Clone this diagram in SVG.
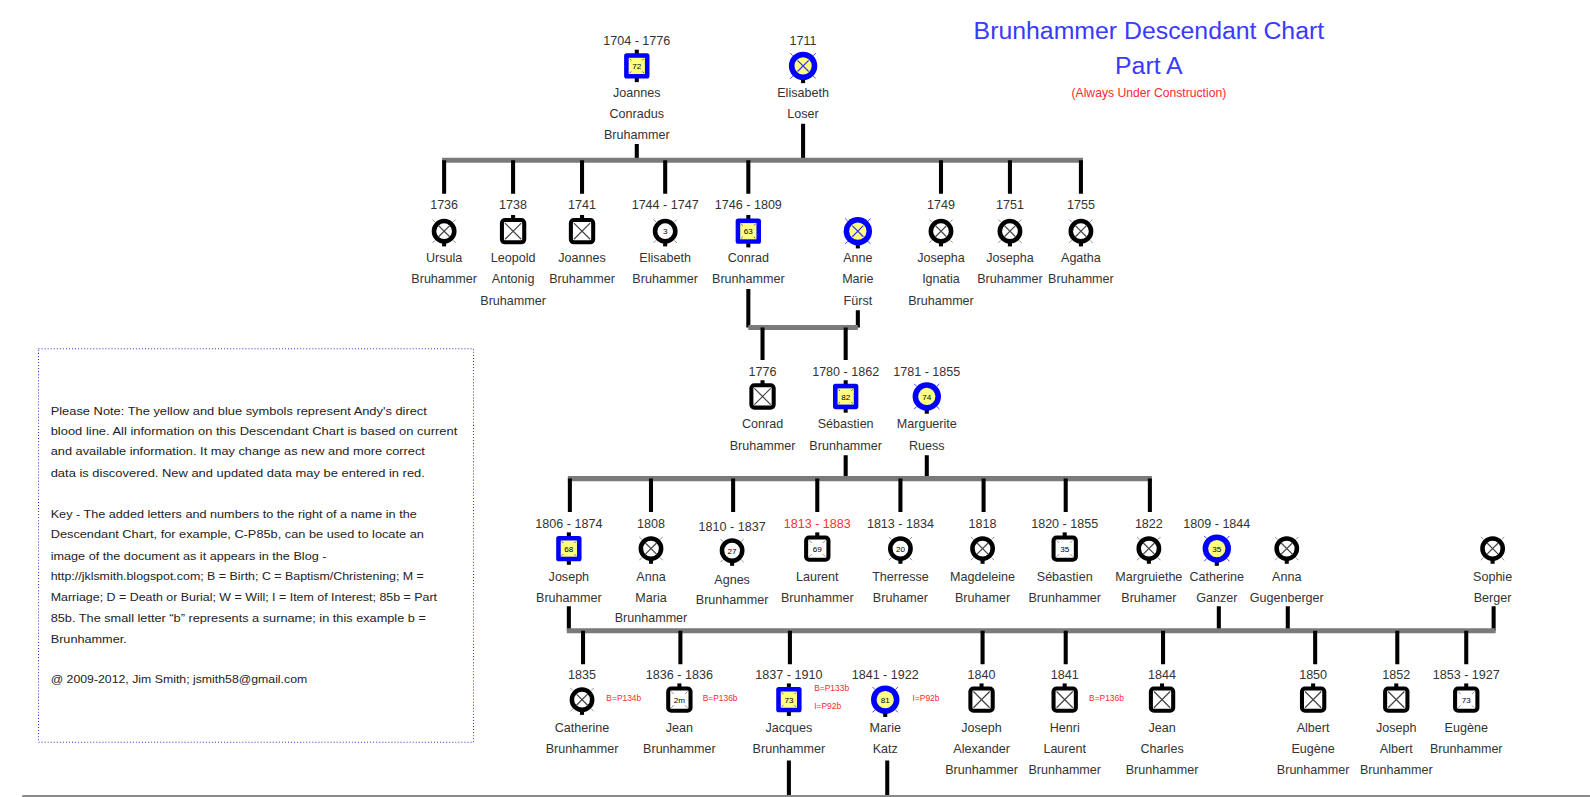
<svg xmlns="http://www.w3.org/2000/svg" width="1590" height="797" viewBox="0 0 1590 797">
<style>
text{font-family:"Liberation Sans",Arial,sans-serif}
.t{font-size:12.4px;fill:#333;text-anchor:middle}
.d{font-size:12.4px;fill:#333;text-anchor:middle}
.dr{font-size:12.4px;fill:#ff3030;text-anchor:middle}
.r{font-size:8.3px;fill:#ff2a2a;text-anchor:start}
.n{font-size:8px;fill:#000;text-anchor:middle}
.note{font-size:11.4px;fill:#222}
.v{stroke:#000;stroke-width:4;fill:none}
.h{stroke:#7a7a7a;stroke-width:5;fill:none}
.x{stroke:#444;stroke-width:1.2;fill:none}
.tk{stroke:#777;stroke-width:0.8;fill:none}
</style>
<defs>
<g id="sqX">
<rect x="-2" y="-16" width="4" height="5" fill="#000"/>
<rect x="-11" y="-11" width="22" height="22" rx="3" fill="#fff" stroke="#000" stroke-width="4"/>
<path class="x" d="M-8,-8 L8,8 M-8,8 L8,-8"/>
</g>
<g id="sqN">
<rect x="-2" y="-16" width="4" height="5" fill="#000"/>
<rect x="-11" y="-11" width="22" height="22" rx="3" fill="#fff" stroke="#000" stroke-width="4"/>
<path class="tk" d="M-8,-8 l2.5,2.5 M8,-8 l-2.5,2.5 M-8,8 l2.5,-2.5 M8,8 l-2.5,-2.5"/>
</g>
<g id="ciX">
<rect x="-2" y="10" width="4" height="5" fill="#000"/>
<path class="tk" d="M-9,-9 l-2.5,-2.5 M9,-9 l2.5,-2.5 M-9,9 l-2.5,2.5 M9,9 l2.5,2.5"/>
<circle r="10" fill="#fff" stroke="#000" stroke-width="4.5"/>
<path class="x" d="M-5.5,-5.5 L5.5,5.5 M-5.5,5.5 L5.5,-5.5"/>
</g>
<g id="ciN">
<rect x="-2" y="10" width="4" height="5" fill="#000"/>
<path class="tk" d="M-9,-9 l-2.5,-2.5 M9,-9 l2.5,-2.5 M-9,9 l-2.5,2.5 M9,9 l2.5,2.5"/>
<circle r="10" fill="#fff" stroke="#000" stroke-width="4.5"/>
</g>
<g id="sqB">
<rect x="-2" y="-16" width="4" height="5" fill="#000"/>
<rect x="-2" y="11" width="4" height="5" fill="#000"/>
<rect x="-12.5" y="-12.5" width="25" height="25" rx="2.5" fill="#0000ff"/>
<rect x="-8" y="-8" width="16" height="16" fill="#ffff80"/>
<path d="M-7,-7 l1.5,1.5 M7,-7 l-1.5,1.5 M-7,7 l1.5,-1.5 M7,7 l-1.5,-1.5" stroke="#3030ff" stroke-width="0.9"/>
</g>
<g id="ciB">
<rect x="-2" y="12" width="4" height="5" fill="#000"/>
<path d="M-10,-10 l-2.5,-2.5 M10,-10 l2.5,-2.5 M-10,10 l-2.5,2.5 M10,10 l2.5,2.5" stroke="#3030ff" stroke-width="0.9"/>
<circle r="14" fill="#0000ff"/>
<circle r="8.5" fill="#ffff80"/>
</g>
<g id="ciBX">
<use href="#ciB"/>
<path d="M-5.5,-5.5 L5.5,5.5 M-5.5,5.5 L5.5,-5.5" stroke="#3030ff" stroke-width="1.2"/>
</g>
</defs>
<rect width="1590" height="797" fill="#fff"/>
<g transform="scale(1.014)">

<g id="title">
<text x="1133" y="38" style="font-size:24.5px;fill:#3a3aff;text-anchor:middle">Brunhammer Descendant Chart</text>
<text x="1133" y="73" style="font-size:24.5px;fill:#3a3aff;text-anchor:middle">Part A</text>
<text x="1133" y="96" style="font-size:12px;fill:#ff2a2a;text-anchor:middle">(Always Under Construction)</text>
</g>

<g id="note">
<rect x="38" y="344" width="429" height="388" fill="none" stroke="#3333cc" stroke-width="1" stroke-dasharray="1,2"/>
<text class="note" x="50" y="409" textLength="371" lengthAdjust="spacingAndGlyphs">Please Note:  The yellow and blue symbols represent Andy's direct</text>
<text class="note" x="50" y="429" textLength="401" lengthAdjust="spacingAndGlyphs">blood line.  All information on this Descendant Chart is based on current</text>
<text class="note" x="50" y="449" textLength="369" lengthAdjust="spacingAndGlyphs">and available information.  It may change as new and more correct</text>
<text class="note" x="50" y="470" textLength="369" lengthAdjust="spacingAndGlyphs">data is discovered.  New and updated data may be entered in red.</text>
<text class="note" x="50" y="511" textLength="361" lengthAdjust="spacingAndGlyphs">Key - The added letters and numbers to the right of a name in the</text>
<text class="note" x="50" y="531" textLength="368" lengthAdjust="spacingAndGlyphs">Descendant Chart, for example, C-P85b, can be used to locate an</text>
<text class="note" x="50" y="552" textLength="272" lengthAdjust="spacingAndGlyphs">image of the document as it appears in the Blog -</text>
<text class="note" x="50" y="572" textLength="368" lengthAdjust="spacingAndGlyphs">http://jklsmith.blogspot.com; B = Birth; C = Baptism/Christening; M =</text>
<text class="note" x="50" y="593" textLength="381" lengthAdjust="spacingAndGlyphs">Marriage; D = Death or Burial; W = Will; I = Item of Interest; 85b = Part</text>
<text class="note" x="50" y="613" textLength="370" lengthAdjust="spacingAndGlyphs">85b.  The small letter “b” represents a surname; in this example b =</text>
<text class="note" x="50" y="634" textLength="75" lengthAdjust="spacingAndGlyphs">Brunhammer.</text>
<text class="note" x="50" y="674" textLength="253" lengthAdjust="spacingAndGlyphs">@ 2009-2012, Jim Smith; jsmith58@gmail.com</text>
</g>

<g id="connectors">
<path class="v" d="M628,142 V158 M792,122 V158"/>
<path class="h" d="M436,158 H1068"/>
<path class="v" d="M438,158 V191 M506,158 V191 M574,158 V191 M656,158 V191 M738,158 V191 M928,158 V191 M996,158 V191 M1066,158 V191"/>
<path class="v" d="M738,285 V323 M846,306 V323"/>
<path class="h" d="M738,323 H846"/>
<path class="v" d="M752,323 V355 M834,323 V355"/>
<path class="v" d="M834,449 V472 M914,449 V472"/>
<path class="h" d="M560,472 H1136"/>
<path class="v" d="M562,472 V505 M642,472 V505 M723,472 V505 M806,472 V505 M888,472 V505 M970,472 V505 M1051,472 V505 M1134,472 V505"/>
<path class="v" d="M561,598 V622 M1202,598 V622 M1270,598 V622 M1473,598 V622"/>
<path class="h" d="M559,622 H1475"/>
<path class="v" d="M575,622 V655 M671,622 V655 M779,622 V655 M969,622 V655 M1051,622 V655 M1147,622 V655 M1297,622 V655 M1378,622 V655 M1446,622 V655"/>
<path class="v" d="M778,750 V785 M875,750 V785"/>
<path d="M22,785 H1568" stroke="#8a8a8a" stroke-width="2"/>
</g>

<g id="p_joannes_conradus">
<text class="d" x="628" y="44.5">1704 - 1776</text>
<use href="#sqB" x="628" y="65"/><text class="n" x="628" y="68">72</text>
<text class="t" x="628" y="95.5">Joannes</text><text class="t" x="628" y="116.5">Conradus</text><text class="t" x="628" y="137.5">Bruhammer</text>
</g>
<g id="p_elisabeth_loser">
<text class="d" x="792" y="44.5">1711</text>
<use href="#ciBX" x="792" y="65"/>
<text class="t" x="792" y="95.5">Elisabeth</text><text class="t" x="792" y="116.5">Loser</text>
</g>

<g id="p_ursula">
<text class="d" x="438" y="206.5">1736</text><use href="#ciX" x="438" y="228"/>
<text class="t" x="438" y="258.5">Ursula</text><text class="t" x="438" y="279.5">Bruhammer</text>
</g>
<g id="p_leopold">
<text class="d" x="506" y="206.5">1738</text><use href="#sqX" x="506" y="228"/>
<text class="t" x="506" y="258.5">Leopold</text><text class="t" x="506" y="279.5">Antonig</text><text class="t" x="506" y="300.5">Bruhammer</text>
</g>
<g id="p_joannes">
<text class="d" x="574" y="206.5">1741</text><use href="#sqX" x="574" y="228"/>
<text class="t" x="574" y="258.5">Joannes</text><text class="t" x="574" y="279.5">Bruhammer</text>
</g>
<g id="p_elisabeth">
<text class="d" x="656" y="206.5">1744 - 1747</text><use href="#ciN" x="656" y="228"/><text class="n" x="656" y="231">3</text>
<text class="t" x="656" y="258.5">Elisabeth</text><text class="t" x="656" y="279.5">Bruhammer</text>
</g>
<g id="p_conrad">
<text class="d" x="738" y="206.5">1746 - 1809</text><use href="#sqB" x="738" y="228"/><text class="n" x="738" y="231">63</text>
<text class="t" x="738" y="258.5">Conrad</text><text class="t" x="738" y="279.5">Brunhammer</text>
</g>
<g id="p_anne_marie">
<use href="#ciBX" x="846" y="228"/>
<text class="t" x="846" y="258.5">Anne</text><text class="t" x="846" y="279.5">Marie</text><text class="t" x="846" y="300.5">Fürst</text>
</g>
<g id="p_josepha_ignatia">
<text class="d" x="928" y="206.5">1749</text><use href="#ciX" x="928" y="228"/>
<text class="t" x="928" y="258.5">Josepha</text><text class="t" x="928" y="279.5">Ignatia</text><text class="t" x="928" y="300.5">Bruhammer</text>
</g>
<g id="p_josepha">
<text class="d" x="996" y="206.5">1751</text><use href="#ciX" x="996" y="228"/>
<text class="t" x="996" y="258.5">Josepha</text><text class="t" x="996" y="279.5">Bruhammer</text>
</g>
<g id="p_agatha">
<text class="d" x="1066" y="206.5">1755</text><use href="#ciX" x="1066" y="228"/>
<text class="t" x="1066" y="258.5">Agatha</text><text class="t" x="1066" y="279.5">Bruhammer</text>
</g>

<g id="p_conrad_1776">
<text class="d" x="752" y="370.5">1776</text><use href="#sqX" x="752" y="391"/>
<text class="t" x="752" y="422.5">Conrad</text><text class="t" x="752" y="443.5">Bruhammer</text>
</g>
<g id="p_sebastien">
<text class="d" x="834" y="370.5">1780 - 1862</text><use href="#sqB" x="834" y="391"/><text class="n" x="834" y="394">82</text>
<text class="t" x="834" y="422.5">Sébastien</text><text class="t" x="834" y="443.5">Brunhammer</text>
</g>
<g id="p_marguerite">
<text class="d" x="914" y="370.5">1781 - 1855</text><use href="#ciB" x="914" y="391"/><text class="n" x="914" y="394">74</text>
<text class="t" x="914" y="422.5">Marguerite</text><text class="t" x="914" y="443.5">Ruess</text>
</g>

<g id="p_joseph">
<text class="d" x="561" y="520.5">1806 - 1874</text><use href="#sqB" x="561" y="541"/><text class="n" x="561" y="544">68</text>
<text class="t" x="561" y="572.5">Joseph</text><text class="t" x="561" y="593.5">Bruhammer</text>
</g>
<g id="p_anna_maria">
<text class="d" x="642" y="520.5">1808</text><use href="#ciX" x="642" y="541"/>
<text class="t" x="642" y="572.5">Anna</text><text class="t" x="642" y="593.5">Maria</text><text class="t" x="642" y="613.5">Brunhammer</text>
</g>
<g id="p_agnes">
<text class="d" x="722" y="523.5">1810 - 1837</text><use href="#ciN" x="722" y="543"/><text class="n" x="722" y="546">27</text>
<text class="t" x="722" y="575.5">Agnes</text><text class="t" x="722" y="595.5">Brunhammer</text>
</g>
<g id="p_laurent">
<text class="dr" x="806" y="520.5">1813 - 1883</text><use href="#sqN" x="806" y="541"/><text class="n" x="806" y="544">69</text>
<text class="t" x="806" y="572.5">Laurent</text><text class="t" x="806" y="593.5">Brunhammer</text>
</g>
<g id="p_therresse">
<text class="d" x="888" y="520.5">1813 - 1834</text><use href="#ciN" x="888" y="541"/><text class="n" x="888" y="544">20</text>
<text class="t" x="888" y="572.5">Therresse</text><text class="t" x="888" y="593.5">Bruhamer</text>
</g>
<g id="p_magdeleine">
<text class="d" x="969" y="520.5">1818</text><use href="#ciX" x="969" y="541"/>
<text class="t" x="969" y="572.5">Magdeleine</text><text class="t" x="969" y="593.5">Bruhamer</text>
</g>
<g id="p_sebastien_1820">
<text class="d" x="1050" y="520.5">1820 - 1855</text><use href="#sqN" x="1050" y="541"/><text class="n" x="1050" y="544">35</text>
<text class="t" x="1050" y="572.5">Sébastien</text><text class="t" x="1050" y="593.5">Brunhammer</text>
</g>
<g id="p_margruiethe">
<text class="d" x="1133" y="520.5">1822</text><use href="#ciX" x="1133" y="541"/>
<text class="t" x="1133" y="572.5">Margruiethe</text><text class="t" x="1133" y="593.5">Bruhamer</text>
</g>
<g id="p_catherine_ganzer">
<text class="d" x="1200" y="520.5">1809 - 1844</text><use href="#ciB" x="1200" y="541"/><text class="n" x="1200" y="544">35</text>
<text class="t" x="1200" y="572.5">Catherine</text><text class="t" x="1200" y="593.5">Ganzer</text>
</g>
<g id="p_anna_gugenberger">
<use href="#ciX" x="1269" y="541"/>
<text class="t" x="1269" y="572.5">Anna</text><text class="t" x="1269" y="593.5">Gugenberger</text>
</g>
<g id="p_sophie_berger">
<use href="#ciX" x="1472" y="541"/>
<text class="t" x="1472" y="572.5">Sophie</text><text class="t" x="1472" y="593.5">Berger</text>
</g>

<g id="p_catherine">
<text class="d" x="574" y="669.5">1835</text><use href="#ciX" x="574" y="690"/>
<text class="r" x="598" y="691">B=P134b</text>
<text class="t" x="574" y="721.5">Catherine</text><text class="t" x="574" y="742.5">Brunhammer</text>
</g>
<g id="p_jean">
<text class="d" x="670" y="669.5">1836 - 1836</text><use href="#sqN" x="670" y="690"/><text class="n" x="670" y="693">2m</text>
<text class="r" x="693" y="691">B=P136b</text>
<text class="t" x="670" y="721.5">Jean</text><text class="t" x="670" y="742.5">Brunhammer</text>
</g>
<g id="p_jacques">
<text class="d" x="778" y="669.5">1837 - 1910</text><use href="#sqB" x="778" y="690"/><text class="n" x="778" y="693">73</text>
<text class="r" x="803" y="681">B=P133b</text><text class="r" x="803" y="699">I=P92b</text>
<text class="t" x="778" y="721.5">Jacques</text><text class="t" x="778" y="742.5">Brunhammer</text>
</g>
<g id="p_marie_katz">
<text class="d" x="873" y="669.5">1841 - 1922</text><use href="#ciB" x="873" y="690"/><text class="n" x="873" y="693">81</text>
<text class="r" x="900" y="691">I=P92b</text>
<text class="t" x="873" y="721.5">Marie</text><text class="t" x="873" y="742.5">Katz</text>
</g>
<g id="p_joseph_alexander">
<text class="d" x="968" y="669.5">1840</text><use href="#sqX" x="968" y="690"/>
<text class="t" x="968" y="721.5">Joseph</text><text class="t" x="968" y="742.5">Alexander</text><text class="t" x="968" y="763.5">Brunhammer</text>
</g>
<g id="p_henri_laurent">
<text class="d" x="1050" y="669.5">1841</text><use href="#sqX" x="1050" y="690"/>
<text class="r" x="1074" y="691">B=P136b</text>
<text class="t" x="1050" y="721.5">Henri</text><text class="t" x="1050" y="742.5">Laurent</text><text class="t" x="1050" y="763.5">Brunhammer</text>
</g>
<g id="p_jean_charles">
<text class="d" x="1146" y="669.5">1844</text><use href="#sqX" x="1146" y="690"/>
<text class="t" x="1146" y="721.5">Jean</text><text class="t" x="1146" y="742.5">Charles</text><text class="t" x="1146" y="763.5">Brunhammer</text>
</g>
<g id="p_albert_eugene">
<text class="d" x="1295" y="669.5">1850</text><use href="#sqX" x="1295" y="690"/>
<text class="t" x="1295" y="721.5">Albert</text><text class="t" x="1295" y="742.5">Eugène</text><text class="t" x="1295" y="763.5">Brunhammer</text>
</g>
<g id="p_joseph_albert">
<text class="d" x="1377" y="669.5">1852</text><use href="#sqX" x="1377" y="690"/>
<text class="t" x="1377" y="721.5">Joseph</text><text class="t" x="1377" y="742.5">Albert</text><text class="t" x="1377" y="763.5">Brunhammer</text>
</g>
<g id="p_eugene">
<text class="d" x="1446" y="669.5">1853 - 1927</text><use href="#sqN" x="1446" y="690"/><text class="n" x="1446" y="693">73</text>
<text class="t" x="1446" y="721.5">Eugène</text><text class="t" x="1446" y="742.5">Brunhammer</text>
</g>
</g>
</svg>
